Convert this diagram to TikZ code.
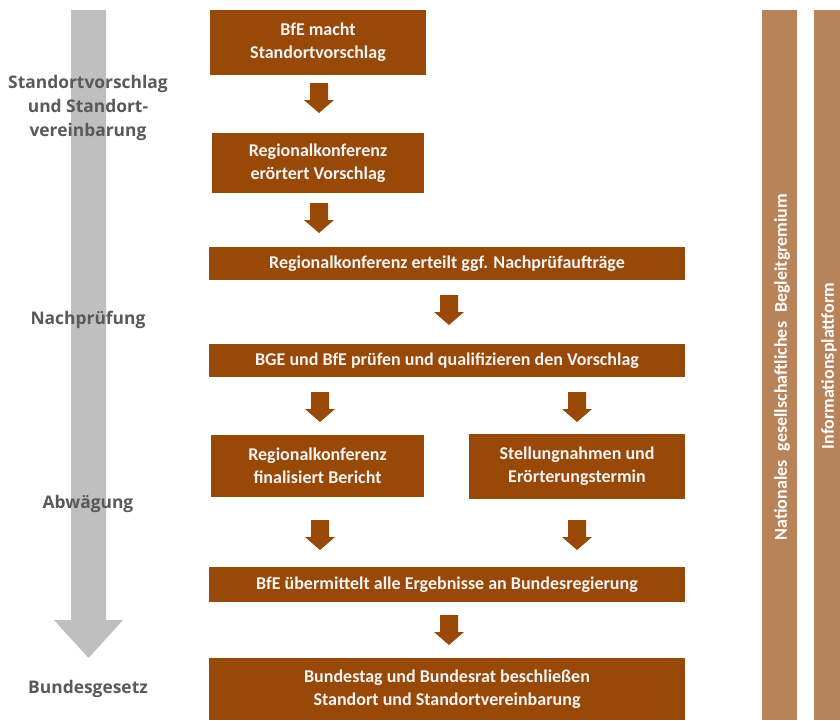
\documentclass[tikz,border=0pt]{standalone}
\usepackage{fontspec}
\setmainfont{Carlito}
\newfontfamily\labelfont{Open Sans}
\definecolor{boxbrown}{HTML}{984807}
\definecolor{barbrown}{HTML}{B9835A}
\definecolor{arrowgray}{HTML}{BFBFBF}
\definecolor{labelgray}{HTML}{595959}
\definecolor{boxtext}{HTML}{F4F4F4}
\begin{document}
\begin{tikzpicture}[x=1pt,y=-1pt,
  box/.style={fill=boxbrown, draw=none, inner sep=0pt, align=center,
    text=boxtext, font=\fontsize{18}{23}\selectfont\bfseries},
  phase/.style={text=labelgray, align=center, inner sep=0pt,
    font=\labelfont\fontsize{17.4}{24}\selectfont\bfseries},
  sidebar/.style={fill=barbrown, draw=none, inner sep=0pt},
  sidetext/.style={text=white, rotate=90, inner sep=0pt,
    font=\fontsize{18}{20}\selectfont\bfseries},
  barrow/.pic={\fill[boxbrown] (-9,0) -- (9,0) -- (9,17) -- (15,17) -- (0,30) -- (-15,17) -- (-9,17) -- cycle;}
]
\useasboundingbox (0,0) rectangle (840,720);

% big gray arrow
\fill[arrowgray] (71,10) -- (106,10) -- (106,620) -- (123,620) -- (88.5,658) -- (54,620) -- (71,620) -- cycle;

% phase labels
\node[phase] (p1) at (88,108) {Standortvorschlag\\und Standort-\\vereinbarung};
\node[phase] (p2) at (88,320) {Nachprüfung};
\node[phase] (p3) at (88,504) {Abwägung};
\node[phase] (p4) at (88,689) {Bundesgesetz};

% boxes
\node[box, minimum width=216, minimum height=65] (b1) at (318,42.5) {BfE macht\\Standortvorschlag};
\node[box, minimum width=212, minimum height=60] (b2) at (318,163) {Regionalkonferenz\\erörtert Vorschlag};
\node[box, minimum width=476, minimum height=33] (b3) at (447,263.5) {Regionalkonferenz erteilt ggf. Nachprüfaufträge};
\node[box, minimum width=476, minimum height=33] (b4) at (447,360.5) {BGE und BfE prüfen und qualifizieren den Vorschlag};
\node[box, minimum width=213, minimum height=62] (b5) at (317.5,466) {Regionalkonferenz\\finalisiert Bericht};
\node[box, minimum width=216, minimum height=65] (b6) at (577,466.5) {Stellungnahmen und\\Erörterungstermin};
\node[box, minimum width=476, minimum height=35] (b7) at (447,584.5) {BfE übermittelt alle Ergebnisse an Bundesregierung};
\node[box, minimum width=476, minimum height=62] (b8) at (447,689) {Bundestag und Bundesrat beschließen\\Standort und Standortvereinbarung};

% block arrows
\pic at (319,83) {barrow};
\pic at (319,203) {barrow};
\pic at (449,295) {barrow};
\pic at (320,392) {barrow};
\pic at (577,392) {barrow};
\pic at (320,520) {barrow};
\pic at (577,520) {barrow};
\pic at (449,615) {barrow};

% side bars
\node[sidebar, minimum width=35, minimum height=710] (s1) at (779.5,365) {};
\node[sidebar, minimum width=26, minimum height=710] (s2) at (827,365) {};
\node[sidetext] (t1) at (782,367) {Nationales\enspace gesellschaftliches\enspace Begleitgremium};
\node[sidetext] (t2) at (829,366) {Informationsplattform};
\end{tikzpicture}
\end{document}
